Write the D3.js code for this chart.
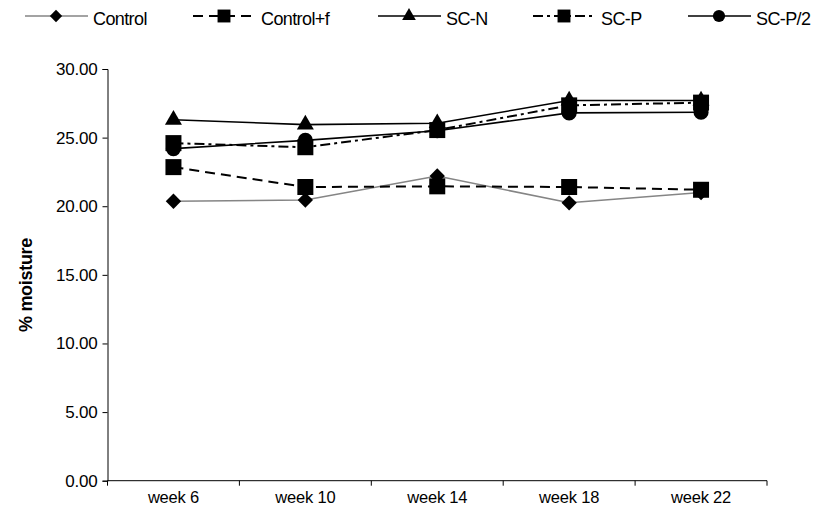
<!DOCTYPE html>
<html>
<head>
<meta charset="utf-8">
<script src="https://cdn.jsdelivr.net/npm/d3@7"></script>
<style>
  body { margin: 0; background: #fff; }
  svg text { font-family: "Liberation Sans", Arial, sans-serif; fill: #000; }
</style>
</head>
<body>
<svg id="chart"></svg>
<script>
// data
let weeks = ['week 6', 'week 10', 'week 14', 'week 18', 'week 22']
let control = [20.36, 20.45, 22.2, 20.25, 21.0]
let controlF = [22.85, 21.4, 21.45, 21.4, 21.2]
let scN = [26.3, 25.95, 26.05, 27.7, 27.7]
let scP = [24.6, 24.3, 25.55, 27.35, 27.55]
let scP2 = [24.2, 24.8, 25.5, 26.8, 26.85]
let yTicks = [0, 5, 10, 15, 20, 25, 30]

let seriesNames = ['Control', 'Control+f', 'SC-N', 'SC-P', 'SC-P/2']
let seriesValues = [control, controlF, scN, scP, scP2]
let seriesStyle = [
    {stroke: '#858585', width: 1.6, dash: null, marker: 'diamond'},
    {stroke: '#000', width: 2, dash: '10,6', marker: 'square'},
    {stroke: '#000', width: 1.6, dash: null, marker: 'triangle'},
    {stroke: '#000', width: 2, dash: '10,4,3,4', marker: 'square'},
    {stroke: '#000', width: 1.6, dash: null, marker: 'circle'}
]

let width = 823
let height = 516
let plotLeft = 107.5
let plotRight = 767
let plotTop = 69
let plotBottom = 480.7

let svg = d3.select('#chart').attr('width', width).attr('height', height)

let xScale = d3.scaleBand().domain(weeks).range([plotLeft, plotRight])
let yScale = d3.scaleLinear().domain([0, 30]).range([plotBottom, plotTop])

// k scales marker area (legend markers are smaller)
let symbolFor = (m, k) => {
    if (m === 'diamond') return d3.symbol().type(d3.symbolDiamond2).size(150 * k)
    if (m === 'square') return d3.symbol().type(d3.symbolSquare).size(256 * k)
    if (m === 'triangle') return d3.symbol().type(d3.symbolTriangle).size(125 * k)
    return d3.symbol().type(d3.symbolCircle).size(180 * k)
}

// axes
let xAxis = d3.axisBottom(xScale).tickSize(0).tickPadding(11)
let gx = svg.append('g')
    .attr('transform', 'translate(0,' + plotBottom + ')')
    .call(xAxis)
gx.select('.domain').remove()
gx.append('line').attr('x1', plotLeft).attr('x2', plotRight).attr('stroke', '#000')
gx.selectAll('.xt')
    .data(d3.range(weeks.length + 1))
    .enter()
    .append('line')
    .attr('x1', (i) => plotLeft + i * xScale.step())
    .attr('x2', (i) => plotLeft + i * xScale.step())
    .attr('y1', 0).attr('y2', 5)
    .attr('stroke', '#000')
gx.selectAll('.tick text')
    .attr('font-size', 16.5)
    .attr('letter-spacing', -0.2)

let yAxis = d3.axisLeft(yScale).tickValues(yTicks).tickFormat(d3.format('.2f')).tickSizeOuter(0).tickSize(5).tickPadding(5)
let gy = svg.append('g')
    .attr('transform', 'translate(' + plotLeft + ',0)')
    .call(yAxis)
gy.select('.domain').attr('stroke', '#000')
gy.selectAll('.tick line').attr('stroke', '#000')
gy.selectAll('.tick text')
    .attr('font-size', 17)
    .attr('letter-spacing', -0.2)

svg.append('text')
    .attr('transform', 'translate(32,285) rotate(-90)')
    .attr('text-anchor', 'middle')
    .attr('font-size', 18)
    .attr('font-weight', 'bold')
    .attr('letter-spacing', -0.3)
    .text('% moisture')

// lines + markers
let line = d3.line()
    .x((d, i) => xScale(weeks[i]) + xScale.bandwidth() / 2)
    .y((d) => yScale(d))

seriesValues.forEach((vals, s) => {
    let st = seriesStyle[s]
    svg.append('path')
        .datum(vals)
        .attr('d', line)
        .attr('fill', 'none')
        .attr('stroke', st.stroke)
        .attr('stroke-width', st.width)
        .attr('stroke-dasharray', st.dash)
})

seriesValues.forEach((vals, s) => {
    let st = seriesStyle[s]
    svg.selectAll('.m' + s)
        .data(vals)
        .enter()
        .append('path')
        .attr('d', symbolFor(st.marker, 1))
        .attr('transform', (d, i) => 'translate(' + (xScale(weeks[i]) + xScale.bandwidth() / 2) + ',' + yScale(d) + ')')
        .attr('fill', '#000')
})

// legend
let legendX = [25, 193, 378, 533, 688]
let legendY = 16
let lg = svg.append('g')
seriesNames.forEach((name, s) => {
    let st = seriesStyle[s]
    let x0 = legendX[s]
    lg.append('line')
        .attr('x1', x0).attr('x2', x0 + 63)
        .attr('y1', legendY).attr('y2', legendY)
        .attr('stroke', st.stroke)
        .attr('stroke-width', st.width)
        .attr('stroke-dasharray', st.dash)
    lg.append('path')
        .attr('d', symbolFor(st.marker, 0.65))
        .attr('transform', 'translate(' + (x0 + 31) + ',' + legendY + ')')
        .attr('fill', '#000')
    lg.append('text')
        .attr('x', x0 + 68)
        .attr('y', legendY + 8.5)
        .attr('font-size', 18)
        .attr('letter-spacing', -0.6)
        .text(name)
})
</script>
</body>
</html>
